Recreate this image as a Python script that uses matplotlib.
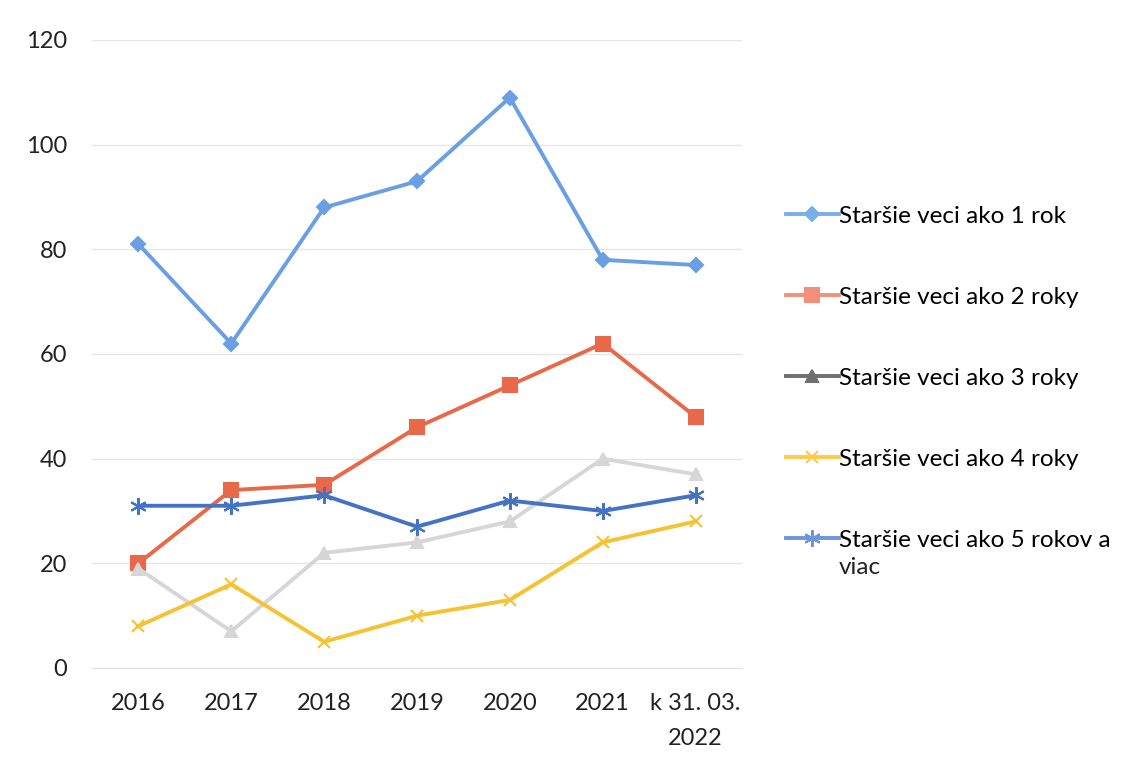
import matplotlib
matplotlib.use("Agg")
import matplotlib.pyplot as plt
from matplotlib.lines import Line2D

# data
years = ["2016", "2017", "2018", "2019", "2020", "2021", "k 31. 03.\n2022"]
rok1 = [81, 62, 88, 93, 109, 78, 77]
roky2 = [20, 34, 35, 46, 54, 62, 48]
roky3 = [19, 7, 22, 24, 28, 40, 37]
roky4 = [8, 16, 5, 10, 13, 24, 28]
rokov5 = [31, 31, 33, 27, 32, 30, 33]
labels = ["Staršie veci ako 1 rok", "Staršie veci ako 2 roky", "Staršie veci ako 3 roky",
          "Staršie veci ako 4 roky", "Staršie veci ako 5 rokov a"]

plt.rcParams['font.family'] = ['Lato', 'DejaVu Sans']

fig = plt.figure(figsize=(11.3, 7.64), dpi=100)
ax = fig.add_axes([92 / 1130, 1 - 668 / 764, (742 - 92) / 1130, (668 - 40) / 764])

x = list(range(len(years)))
series = [
    (rok1, "#6a9fe3", "D", 7, "#7aaee8"),
    (roky2, "#e8694a", "s", 10, "#f4907a"),
    (roky3, "#d6d6d6", "^", 8, "#6f6f6f"),
    (roky4, "#f5c232", "x", 9, "#ffc94a"),
    (rokov5, "#4472c4", (6, 2, 0), 12, "#6e95db"),
]
handles = []
for (vals, col, mk, ms, lcol), lab in zip(series, labels):
    ax.plot(x, vals, color=col, lw=2.8, marker=mk, markersize=ms,
            markeredgecolor=col, markeredgewidth=1.5, zorder=3)
    handles.append(Line2D([], [], color=lcol, lw=2.8, marker=mk, markersize=ms,
                          markeredgecolor=lcol, markeredgewidth=1.5, label=lab))

ax.set_xlim(-0.5, len(years) - 0.5)
ax.set_ylim(0, 120)
ax.set_yticks(range(0, 121, 20))
ax.set_xticks(x)
ax.set_xticklabels(years, fontsize=17, color="#222222", linespacing=1.85)
ax.tick_params(axis="y", labelsize=17, colors="#222222", length=0, pad=18)
ax.tick_params(axis="x", length=0, pad=18)
ax.grid(axis="y", color="#e6e6e6", lw=1)
ax.set_axisbelow(True)
for s in ["top", "right", "left"]:
    ax.spines[s].set_visible(False)
ax.spines["bottom"].set_color("#e0e0e0")

leg = fig.legend(handles=handles, loc="upper left", bbox_to_anchor=(776 / 1130, 1 - 196 / 764),
                 frameon=False, fontsize=17.5, handlelength=2.2, handletextpad=0.0,
                 labelspacing=2.47, borderaxespad=0)

# second line of the last legend entry
fig.canvas.draw()
bb = leg.get_texts()[-1].get_window_extent()
fig.text(bb.x0 / 1130, (bb.y0 - 6) / 764, "viac", fontsize=17.5, color="#222222", va="top")

fig.savefig("out.png", dpi=100)
